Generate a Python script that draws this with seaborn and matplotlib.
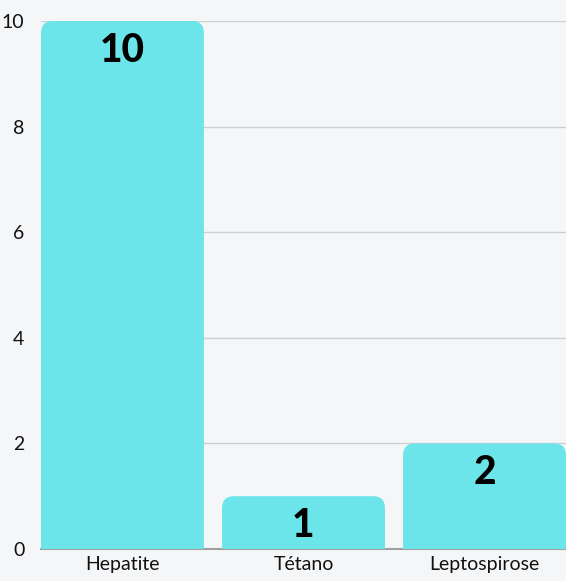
import matplotlib
matplotlib.use("Agg")
import matplotlib.pyplot as plt
import seaborn as sns
import pandas as pd
from matplotlib.patches import FancyBboxPatch

categories = ["Hepatite", "Tétano", "Leptospirose"]
values = [10, 1, 2]
yticks = [0, 2, 4, 6, 8, 10]

BG = "#f5f6f8"
BAR = "#6be5e9"

sns.set_theme(style="white")
plt.rcParams['font.family'] = ['Lato', 'DejaVu Sans']

df = pd.DataFrame({"cat": categories, "val": values})

fig = plt.figure(figsize=(5.66, 5.81), dpi=100, facecolor=BG)
W, H = 566, 581
ax = fig.add_axes([41 / W, (H - 549) / H, 1 - 41 / W, (549 - 21) / H])
ax.set_facecolor(BG)

sns.barplot(data=df, x="cat", y="val", color=BAR, width=0.9, ax=ax, zorder=3)

ax.set_xlim(-0.45, 2.45)
ax.set_ylim(0, 10)

# replace bars with top-rounded versions
px_x = 2.9 / (W - 41)
px_y = 10 / (549 - 21)
r = 12
for p in list(ax.patches):
    x0, w, h = p.get_x(), p.get_width(), p.get_height()
    p.remove()
    extra = r * px_y * 2
    fb = FancyBboxPatch((x0, -extra), w, h + extra,
                        boxstyle=f"round,pad=0,rounding_size={r * px_x}",
                        mutation_aspect=px_y / px_x,
                        facecolor=BAR, edgecolor="none", zorder=3)
    ax.add_patch(fb)
    ax.text(x0 + w / 2, h - 11 * px_y, str(int(h)), ha="center", va="top",
            fontsize=28, fontweight=900, color="black", zorder=4)

ax.set_yticks(yticks)
ax.set_yticklabels([str(v) for v in yticks])
ax.yaxis.grid(True, color="#cfcfd2", linewidth=1, zorder=0)
ax.set_axisbelow(True)
ax.tick_params(axis="y", length=0, pad=12, labelsize=14, labelcolor="#111111")
ax.tick_params(axis="x", length=0, pad=5, labelsize=14, labelcolor="#111111")
ax.set_xlabel("")
ax.set_ylabel("")
for s in ["top", "right", "left"]:
    ax.spines[s].set_visible(False)
ax.spines["bottom"].set_color("#a0a0a0")
ax.spines["bottom"].set_linewidth(1.5)
ax.spines["bottom"].set_zorder(2)

fig.savefig("out.png", dpi=100, facecolor=BG)
